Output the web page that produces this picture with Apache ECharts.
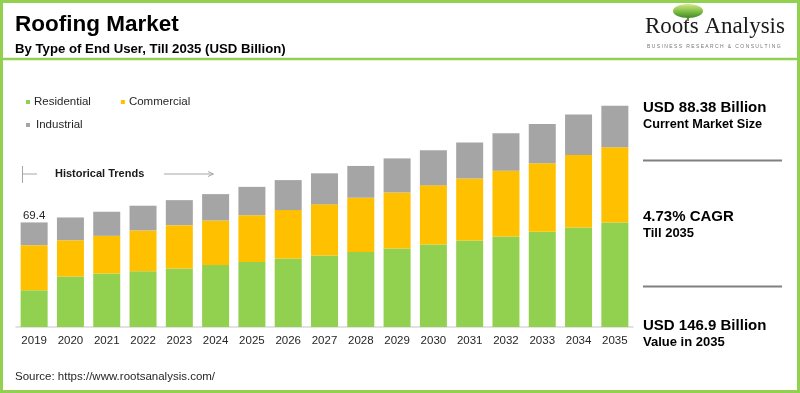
<!DOCTYPE html>
<html>
<head>
<meta charset="utf-8">
<script src="https://cdn.jsdelivr.net/npm/echarts@6/dist/echarts.min.js"></script>
<style>
html,body{margin:0;padding:0;background:#fff;}
#chart{width:800px;height:393px;}
</style>
</head>
<body>
<div id="chart"></div>
<script>
var years = ['2019','2020','2021','2022','2023','2024','2025','2026','2027','2028','2029','2030','2031','2032','2033','2034','2035'];
var residential = [24.4, 33.5, 35.5, 37.0, 38.8, 41.2, 43.2, 45.5, 47.5, 49.7, 52.1, 54.8, 57.4, 60.1, 63.2, 66.1, 69.4];
var commercial  = [29.9, 24.1, 25.0, 27.1, 28.8, 29.5, 31.0, 32.1, 33.9, 36.1, 37.2, 39.2, 41.2, 43.6, 45.5, 48.1, 49.9];
var industrial  = [15.1, 15.1, 16.0, 16.4, 16.6, 17.5, 18.8, 19.9, 20.6, 21.1, 22.6, 23.3, 23.9, 24.9, 26.1, 26.8, 27.6];
var labelledYears = ['2019'];
var seriesNames = ['Residential','Commercial','Industrial'];
var colors = ['#92D050','#FFC000','#A5A5A5'];

var FONT = "'Liberation Sans', Arial, sans-serif";
var chart = echarts.init(document.getElementById('chart'), null, {renderer:'canvas'});

function totalAt(i){ return residential[i] + commercial[i] + industrial[i]; }

var option = {
  animation: false,
  textStyle: {fontFamily: FONT},
  grid: {left: 16, right: 167, top: 101, bottom: 66, containLabel: false},
  legend: [
    {data: ['Residential','Commercial'], left: 21, top: 91, icon: 'rect', itemWidth: 4, itemHeight: 4, itemGap: 30,
     textStyle: {fontSize: 11.5, color: '#262626', fontFamily: FONT, padding: [0,0,0,-1]}},
    {data: ['Industrial'], left: 21, top: 114, icon: 'rect', itemWidth: 4, itemHeight: 4,
     textStyle: {fontSize: 11.5, color: '#262626', fontFamily: FONT, padding: [0,0,0,1]}}
  ],
  xAxis: {
    type: 'category', data: years,
    axisTick: {show: false},
    axisLine: {lineStyle: {color: '#d9d9d9', width: 1.5}},
    axisLabel: {fontSize: 11.5, color: '#262626', margin: 8, fontFamily: FONT}
  },
  yAxis: {type: 'value', min: 0, max: 150, show: false, splitLine: {show: false}},
  series: [
    {name: seriesNames[0], type: 'bar', stack: 't', data: residential, barWidth: 27, itemStyle: {color: colors[0]}},
    {name: seriesNames[1], type: 'bar', stack: 't', data: commercial, barWidth: 27, itemStyle: {color: colors[1]}},
    {name: seriesNames[2], type: 'bar', stack: 't', data: industrial, barWidth: 27, itemStyle: {color: colors[2]},
     label: {show: true, position: 'top', distance: 1, fontSize: 11.5, color: '#262626', fontFamily: FONT,
       formatter: function(p){ return labelledYears.indexOf(p.name) >= 0 ? totalAt(p.dataIndex).toFixed(1) : ''; }}}
  ],
  graphic: [
    {type: 'rect', shape: {x: 1.5, y: 1.5, width: 797, height: 390}, style: {fill: null, stroke: '#92D050', lineWidth: 3}, z: 100},
    {type: 'line', shape: {x1: 0, y1: 59, x2: 800, y2: 59}, style: {stroke: '#92D050', lineWidth: 2.5}},
    {type: 'text', left: 15, top: 13, style: {text: 'Roofing Market', font: "bold 22.5px " + FONT, fill: '#000'}},
    {type: 'text', left: 15, top: 43, style: {text: 'By Type of End User, Till 2035 (USD Billion)', font: "bold 13.2px " + FONT, fill: '#000'}},
    // logo
    {type: 'line', shape: {x1: 688, y1: 12, x2: 688, y2: 21}, style: {stroke: '#6d8a3a', lineWidth: 2}},
    {type: 'ellipse', shape: {cx: 688, cy: 11, rx: 15, ry: 7},
     style: {fill: new echarts.graphic.LinearGradient(0, 0, 0, 1, [{offset: 0, color: '#d3e88a'}, {offset: 0.45, color: '#8cc54c'}, {offset: 1, color: '#3c8a28'}])}},
    {type: 'text', left: 645, top: 15, style: {text: 'Roots Analysis', font: "23px 'Liberation Serif', 'Times New Roman', serif", fill: '#1a1a1a'}},
    {type: 'text', left: 647, top: 44, style: {text: 'B U S I N E S S   R E S E A R C H   &   C O N S U L T I N G', font: "5px " + FONT, fill: '#777'}},
    // historical trends
    {type: 'line', shape: {x1: 22.5, y1: 166, x2: 22.5, y2: 183}, style: {stroke: '#a6a6a6', lineWidth: 1}},
    {type: 'line', shape: {x1: 22.5, y1: 174, x2: 37, y2: 174}, style: {stroke: '#a6a6a6', lineWidth: 1}},
    {type: 'text', left: 55, top: 168, style: {text: 'Historical Trends', font: "bold 11px " + FONT, fill: '#1a1a1a'}},
    {type: 'line', shape: {x1: 164, y1: 174, x2: 213, y2: 174}, style: {stroke: '#a6a6a6', lineWidth: 1}},
    {type: 'polyline', shape: {points: [[208, 171.5], [213.5, 174], [208, 176.5]]}, style: {stroke: '#a6a6a6', lineWidth: 1, fill: null}},
    // right panel
    {type: 'text', left: 643, top: 100, style: {text: 'USD 88.38 Billion', font: "bold 15px " + FONT, fill: '#000'}},
    {type: 'text', left: 643, top: 118, style: {text: 'Current Market Size', font: "bold 12.7px " + FONT, fill: '#000'}},
    {type: 'line', shape: {x1: 643, y1: 160.5, x2: 782, y2: 160.5}, style: {stroke: '#808080', lineWidth: 2}},
    {type: 'text', left: 643, top: 209, style: {text: '4.73% CAGR', font: "bold 15px " + FONT, fill: '#000'}},
    {type: 'text', left: 643, top: 227, style: {text: 'Till 2035', font: "bold 13px " + FONT, fill: '#000'}},
    {type: 'line', shape: {x1: 643, y1: 286.5, x2: 782, y2: 286.5}, style: {stroke: '#808080', lineWidth: 2}},
    {type: 'text', left: 643, top: 318, style: {text: 'USD 146.9 Billion', font: "bold 15px " + FONT, fill: '#000'}},
    {type: 'text', left: 643, top: 336, style: {text: 'Value in 2035', font: "bold 13px " + FONT, fill: '#000'}},
    {type: 'text', left: 15, top: 371, style: {text: 'Source: https://www.rootsanalysis.com/', font: "11.5px " + FONT, fill: '#262626'}}
  ]
};
chart.setOption(option);
</script>
</body>
</html>
